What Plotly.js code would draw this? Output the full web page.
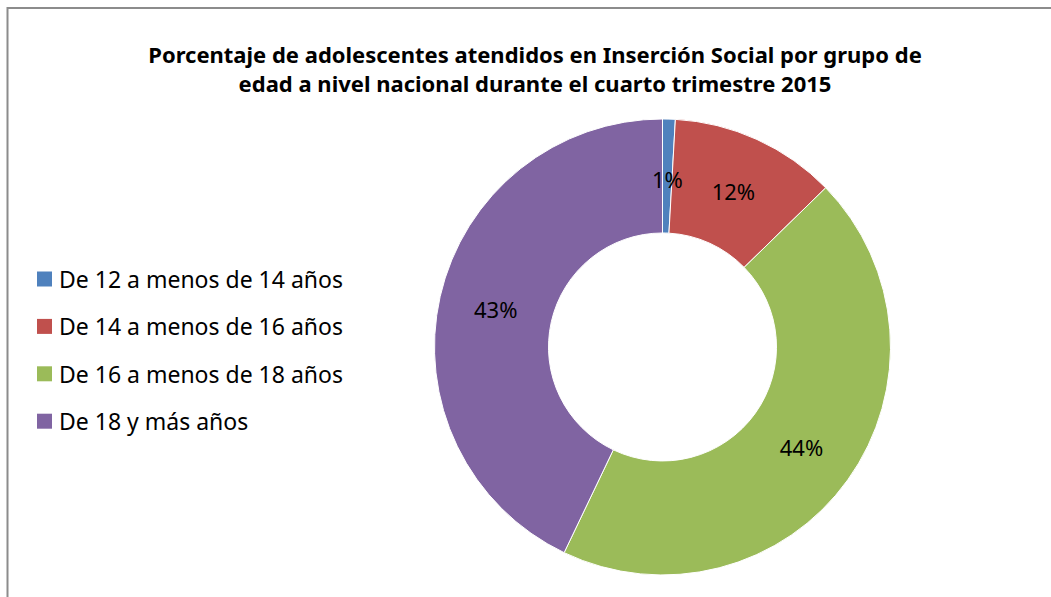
<!DOCTYPE html>
<html>
<head>
<meta charset="utf-8">
<script src="https://cdn.plot.ly/plotly-3.0.1.min.js"></script>
<style>html,body{margin:0;padding:0;background:#fff;}#chart{width:1051px;height:597px;}</style>
</head>
<body>
<div id="chart"></div>
<script>
const categories = ["De 12 a menos de 14 años", "De 14 a menos de 16 años", "De 16 a menos de 18 años", "De 18 y más años"];
const values = [0.9, 11.8, 44.4, 42.9];
const colors = ["#4F81BD", "#C0504D", "#9BBB59", "#8064A2"];
const titleText = "Porcentaje de adolescentes atendidos en Inserción Social por grupo de<br>edad a nivel nacional durante el cuarto trimestre 2015";

const W = 1051, H = 597;
const FONT = "Noto Sans, DejaVu Sans, sans-serif";
const dom = {x: [0.4134, 0.8473], y: [0.0369, 0.8007]};
const HOLE = 0.5;

const total = values.reduce(function (a, b) { return a + b; }, 0);
// the thinnest slice gets its label as an annotation (too narrow for inside text)
const smallIdx = values.indexOf(Math.min.apply(null, values));
const texts = values.map(function (v, i) { return i === smallIdx ? "" : Math.round(v / total * 100) + "%"; });

const trace = {
  type: "pie",
  labels: categories,
  values: values,
  text: texts,
  hole: HOLE,
  sort: false,
  direction: "clockwise",
  rotation: 0,
  marker: {colors: colors, line: {color: "#ffffff", width: 1}},
  texttemplate: "%{text}",
  textposition: "inside",
  insidetextorientation: "horizontal",
  textfont: {family: FONT, size: 22, color: "#000000"},
  hoverinfo: "label+percent",
  showlegend: false,
  domain: dom
};

const shapes = [{
  type: "rect", xref: "paper", yref: "paper",
  x0: 7.5 / W, x1: 1.05, y0: -0.05, y1: 1 - 8 / H,
  line: {color: "#8c8c8c", width: 2}, fillcolor: "rgba(0,0,0,0)", layer: "below"
}];
const annotations = [];
categories.forEach(function (c, i) {
  const yc = 279 + i * 47.4;
  shapes.push({
    type: "rect", xref: "paper", yref: "paper",
    x0: 37 / W, x1: 52 / W, y0: 1 - (yc + 7.5) / H, y1: 1 - (yc - 7.5) / H,
    fillcolor: colors[i], line: {width: 0}
  });
  annotations.push({
    xref: "paper", yref: "paper", x: 57 / W, y: 1 - yc / H,
    xanchor: "left", yanchor: "middle", showarrow: false,
    text: c, font: {family: FONT, size: 23, color: "#000000"}
  });
});

// label for the thin slice, placed at its mid-angle on the ring's mid radius
(function () {
  let before = 0;
  for (let i = 0; i < smallIdx; i++) before += values[i];
  const frac = (before + values[smallIdx] / 2) / total;
  const ang = 2 * Math.PI * frac;
  const cx = (dom.x[0] + dom.x[1]) / 2 * W;
  const cy = (1 - (dom.y[0] + dom.y[1]) / 2) * H;
  const R = (dom.x[1] - dom.x[0]) * W / 2;
  const rm = R * (1 + HOLE) / 2;
  const px = cx + rm * Math.sin(ang);
  const py = cy - rm * Math.cos(ang);
  annotations.push({
    xref: "paper", yref: "paper", x: px / W, y: 1 - (py + 3) / H,
    xanchor: "center", yanchor: "middle", showarrow: false,
    text: Math.round(values[smallIdx] / total * 100) + "%",
    font: {family: FONT, size: 22, color: "#000000"}
  });
})();

const layout = {
  width: W, height: H,
  margin: {l: 0, r: 0, t: 0, b: 0},
  paper_bgcolor: "#ffffff",
  title: {
    text: titleText,
    x: 535 / W, xanchor: "center", xref: "container",
    y: 1 - 63 / H, yanchor: "middle", yref: "container",
    font: {family: FONT, size: 22, color: "#000000", weight: "bold"}
  },
  shapes: shapes,
  annotations: annotations,
  showlegend: false
};

Plotly.newPlot("chart", [trace], layout, {displayModeBar: false, staticPlot: true});
</script>
</body>
</html>
